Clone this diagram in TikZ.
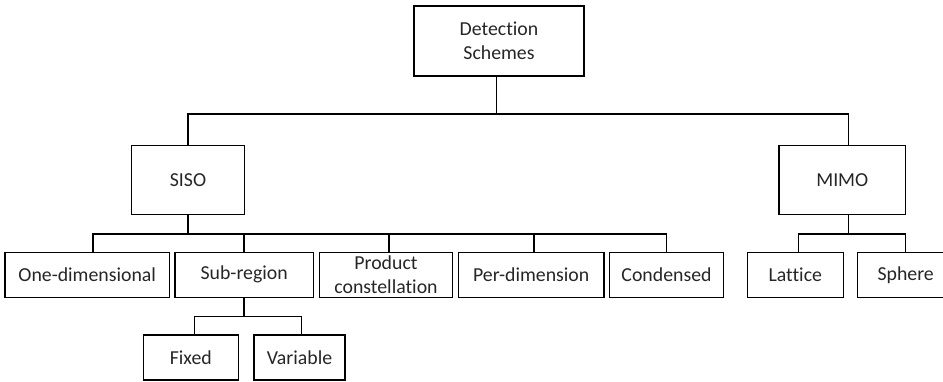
\documentclass[tikz,border=0pt]{standalone}
\usepackage{fontspec}
\setmainfont{Carlito}[Ligatures=NoCommon]
\begin{document}
\begin{tikzpicture}[x=1pt, y=-1pt,
  box/.style={draw, line width=1.5pt, inner sep=0pt, align=center,
    font=\fontsize{19.8}{23.5}\selectfont, text=black!85},
  link/.style={line width=1.5pt, line cap=rect}]
\useasboundingbox (0,0) rectangle (943,381);

% root
\node[box, minimum width=170pt, minimum height=70pt] (ds) at (499,41) {Detection\\Schemes};

% first level
\node[box, minimum width=113pt, minimum height=68.6pt] (siso) at (188,180) {SISO};
\node[box, minimum width=126.7pt, minimum height=68.6pt] (mimo) at (842.3,180) {MIMO};

% SISO children
\node[box, minimum width=164.3pt, minimum height=45pt] (one)  at (87.2,274.8)  {One-dimensional};
\node[box, minimum width=138.3pt, minimum height=45pt] (sub)  at (244.2,274.8) {Sub-region};
\node[box, minimum width=133.4pt, minimum height=45pt] (prod) at (386,274.8)   {Product\\constellation};
\node[box, minimum width=145.7pt, minimum height=45pt] (per)  at (531.2,274.8) {Per-dimension};
\node[box, minimum width=113.6pt, minimum height=45pt] (cond) at (666.5,274.8) {Condensed};

% MIMO children
\node[box, minimum width=96pt, minimum height=45pt] (lat) at (795.3,274.8) {Lattice};
\node[box, minimum width=96pt, minimum height=45pt] (sph) at (905.7,274.8) {Sphere};

% Sub-region children
\node[box, minimum width=95pt, minimum height=45pt] (fix) at (190.8,357.5) {Fixed};
\node[box, minimum width=91pt, minimum height=45pt] (var) at (299.5,357.5) {Variable};

% root -> SISO / MIMO
\draw[link] ([xshift=-2.7pt]ds.south) -- ++(0,37.3) coordinate (b1);
\draw[link] (siso.north) |- (b1) -| ([xshift=6pt]mimo.north);

% SISO -> its schemes
\draw[link] (siso.south) -- ++(0,19) coordinate (b2);
\draw[link] ([xshift=5.8pt]one.north) |- (b2) -| (cond.north);
\draw[link] (sub.north) -- (sub.north |- b2);
\draw[link] ([xshift=3pt]prod.north) -- ([xshift=3pt]prod.north |- b2);
\draw[link] ([xshift=2.8pt]per.north) -- ([xshift=2.8pt]per.north |- b2);

% MIMO -> its schemes
\draw[link] ([xshift=6pt]mimo.south) -- ++(0,19) coordinate (b3);
\draw[link] ([xshift=3pt]lat.north) |- (b3) -| (sph.north);

% Sub-region -> fixed / variable
\draw[link] (sub.south) -- ++(0,18.4) coordinate (b4);
\draw[link] ([xshift=3.5pt]fix.north) |- (b4) -| ([xshift=2.2pt]var.north);
\end{tikzpicture}
\end{document}
